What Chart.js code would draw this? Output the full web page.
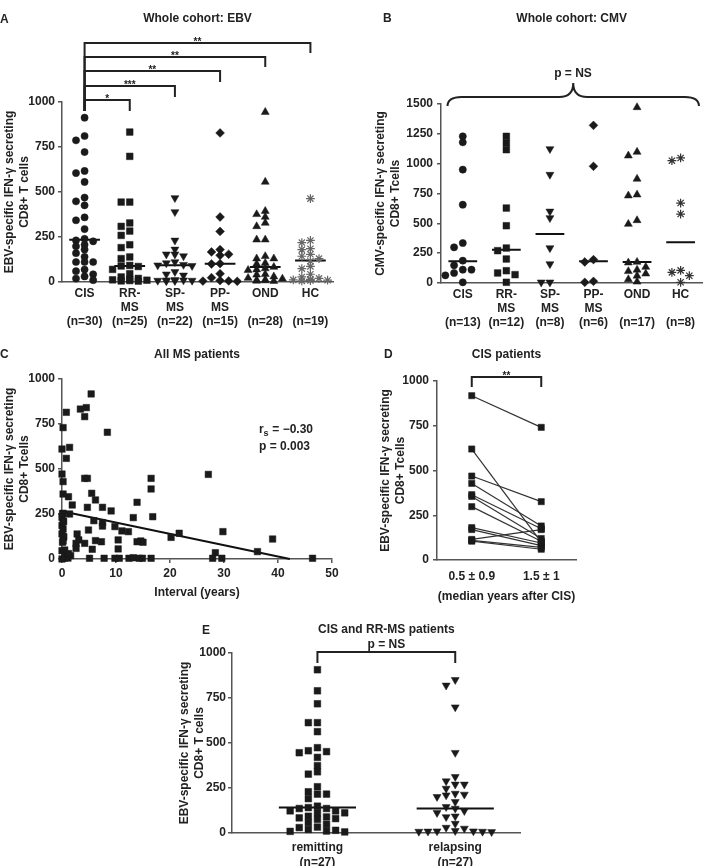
<!DOCTYPE html>
<html>
<head>
<meta charset="utf-8">
<script src="https://cdn.jsdelivr.net/npm/chart.js@4"></script>
<style>
body { margin: 0; background: #fff; width: 708px; height: 866px; position: relative; overflow: hidden; }
canvas { position: absolute; }
</style>
</head>
<body>
<canvas id="chartA" width="354" height="335" style="left:0;top:0"></canvas>
<canvas id="chartB" width="354" height="335" style="left:354px;top:0"></canvas>
<canvas id="chartC" width="354" height="285" style="left:0;top:335px"></canvas>
<canvas id="chartD" width="354" height="285" style="left:354px;top:335px"></canvas>
<canvas id="chartE" width="370" height="246" style="left:170px;top:620px"></canvas>
<script>
// ---- data ----
var groupNames = [["CIS", ""], ["RR-", "MS"], ["SP-", "MS"], ["PP-", "MS"], ["OND", ""], ["HC", ""]];
var countsEBV = ["(n=30)", "(n=25)", "(n=22)", "(n=15)", "(n=28)", "(n=19)"];
var countsCMV = ["(n=13)", "(n=12)", "(n=8)", "(n=6)", "(n=17)", "(n=8)"];

// A: EBV-specific responses, whole cohort
var ebvCIS = [913, 811, 787, 722, 617, 605, 556, 469, 448, 426, 359, 343, 294, 240, 231, 226, 207, 198, 180, 160, 140, 111, 111, 111, 69, 60, 43, 31, 19, 10];
var ebvRRMS = [833, 698, 444, 444, 328, 309, 283, 259, 207, 191, 139, 130, 92, 89, 86, 70, 46, 28, 20, 15, 12, 10, 8, 6, 5];
var ebvSPMS = [467, 389, 231, 181, 154, 154, 144, 111, 105, 96, 93, 90, 56, 43, 37, 12, 10, 10, 8, 8, 6, 5];
var ebvPPMS = [828, 361, 281, 180, 167, 154, 148, 102, 100, 46, 24, 8, 6, 5, 4];
var ebvOND = [944, 556, 394, 376, 361, 328, 309, 235, 235, 143, 130, 130, 105, 100, 83, 75, 69, 66, 43, 40, 30, 22, 18, 12, 10, 8, 6, 5];
var ebvHC = [463, 231, 219, 185, 180, 154, 143, 130, 115, 87, 74, 43, 28, 20, 15, 12, 10, 8, 6];
var medianEBV = [235, 89, 93, 102, 83, 120];
var starsEBV = ["*", "***", "**", "**", "**"];

// B: CMV-specific responses, whole cohort
var cmvCIS = [1229, 1179, 950, 656, 335, 299, 187, 148, 112, 112, 84, 64, 6];
var cmvRRMS = [1229, 1173, 1117, 628, 480, 293, 271, 201, 103, 84, 70, 6];
var cmvSPMS = [1123, 908, 600, 545, 293, 159, 6, 6];
var cmvPPMS = [1321, 978, 196, 176, 14, 6];
var cmvOND = [1472, 1098, 1067, 872, 740, 732, 525, 494, 176, 170, 134, 110, 98, 78, 60, 30, 10];
var cmvHC = [1048, 1025, 670, 578, 106, 89, 61, 6];
var medianCMV = [182, 279, 410, 182, 176, 341];

// C: all MS patients, interval (years) vs EBV response
var intervalYears = [5.4, 3.4, 4.5, 4.2, 0.8, 0.2, 8.4, 0, 1.4, 0.8, 0, 0.2, 4.2, 4.7, 27.1, 16.5, 16.5, 0.2, 1.2, 5.5,
  1.9, 4.7, 6.2, 7.5, 9.1, 13.9, 16.8, 13.2, 0.2, 1.4, 5.9, 7.5, 7.5, 9.8, 11.1, 12.3, 21.7, 20.2, 29.8, 39,
  36.2, 28.4, 27.9, 29.6, 46.4, 2.8, 3.1, 2.6, 2.6, 4.2, 4.9, 5.6, 6.2, 7.3, 10.4, 10.4, 14.6, 15.0, 13.9, 5.1,
  7.8, 9.8, 10.6, 12.4, 13.2, 14.3, 14.9, 16.5, 0.1, 0, 0.3, 0, 0.2, 0, 0.3, 0.1, 0, 0.7, 1.6, 0,
  0.5, 1.1, 0.3, 0.2, 0.5, 0.2, 1.2];
var intervalEBV = [917, 833, 841, 791, 815, 730, 704, 611, 620, 559, 472, 430, 448, 448, 470, 448, 389, 361, 346, 365,
  300, 287, 328, 287, 267, 315, 235, 230, 254, 250, 213, 202, 183, 180, 156, 152, 143, 120, 152, 111,
  41, 35, 4, 4, 4, 139, 106, 87, 59, 87, 161, 54, 102, 96, 106, 56, 100, 93, 96, 4,
  4, 4, 4, 4, 7, 4, 4, 4, 251, 232, 208, 186, 167, 139, 121, 93, 46, 28, 19, 0,
  5, 5, 125, 100, 50, 210, 30];
var fitYears = [0, 42.2];
var fitEBV = [265, 0];

// D: CIS patients, paired samples
var cisFirst = [918, 620, 469, 428, 365, 355, 298, 181, 170, 115, 110, 105];
var cisSecond = [741, 100, 326, 190, 175, 120, 105, 95, 80, 170, 70, 60];

// E: CIS and RR-MS patients, remitting vs relapsing
var remitting = [907, 790, 718, 613, 613, 563, 474, 457, 452, 446, 420, 374, 340, 327, 257, 229, 216, 216, 191, 149,
  141, 136, 136, 123, 123, 112, 112, 93, 89, 84, 80, 76, 58, 48, 33, 30, 20, 15, 11, 9, 6];
var relapsing = [851, 820, 699, 446, 312, 288, 270, 270, 247, 219, 214, 210, 201, 173, 145, 136, 123, 112, 93, 89,
  52, 30, 25, 12, 10, 10, 9, 8, 8, 6];
var medianRemRel = [141, 136];

// ---- helpers ----
var FAMILY = '"Liberation Sans", Arial, Helvetica, sans-serif';
Chart.defaults.font.family = FAMILY;
Chart.defaults.font.weight = 'bold';
Chart.defaults.font.size = 12;
Chart.defaults.color = '#222';

var INK = '#1a1a1a';
var AXIS = '#555';

var markers = [
  { pointStyle: 'circle', radius: 3.6, rotation: 0 },
  { pointStyle: 'rect', radius: 4.7, rotation: 0 },
  { pointStyle: 'triangle', radius: 4.6, rotation: 180 },
  { pointStyle: 'rectRot', radius: 4.4, rotation: 0 },
  { pointStyle: 'triangle', radius: 4.6, rotation: 0 },
  { pointStyle: 'star', radius: 4.4, rotation: 0 }
];

// simple beeswarm: spread points that would overlap sideways
function swarm(values, center, step, gap, maxK) {
  var order = [0];
  for (var k = 1; k <= maxK; k++) order.push(-k, k);
  var placed = [];
  return values.slice().sort(function (a, b) { return b - a; }).map(function (v) {
    var best = 0, bestHits = Infinity;
    for (var i = 0; i < order.length; i++) {
      var o = order[i];
      var hits = placed.filter(function (p) { return p.o === o && Math.abs(p.v - v) < gap; }).length;
      if (hits === 0) { best = o; break; }
      if (hits < bestHits) { bestHits = hits; best = o; }
    }
    placed.push({ o: best, v: v });
    return { x: center + best * step, y: v };
  });
}

function groupDatasets(groups, medians, opt) {
  var ds = groups.map(function (vals, i) {
    var m = opt.markers[i];
    var isStar = m.pointStyle === 'star';
    return {
      type: 'scatter',
      data: swarm(vals, i, opt.step, opt.gap, opt.maxK),
      pointStyle: m.pointStyle,
      pointRadius: m.radius,
      pointRotation: m.rotation,
      backgroundColor: INK,
      borderColor: isStar ? opt.starColor : INK,
      borderWidth: isStar ? 1.2 : 0.5,
      clip: false
    };
  });
  var seg = [];
  medians.forEach(function (m, i) {
    seg.push({ x: i - opt.half, y: m }, { x: i + opt.half, y: m }, { x: i + 0.5, y: null });
  });
  ds.push({ type: 'line', data: seg, borderColor: '#111', borderWidth: 2, pointRadius: 0, spanGaps: false, clip: false });
  return ds;
}

function yAxis(max, width, titleLines, titlePad, tickPad) {
  return {
    min: 0, max: max,
    ticks: { stepSize: 250, padding: tickPad, color: '#222', font: { size: 12, weight: 'bold' },
      callback: function (v) { return String(v); } },
    grid: { drawOnChartArea: false, drawTicks: true, tickLength: 4, color: AXIS, lineWidth: 1.5 },
    border: { color: AXIS, width: 1.5 },
    title: { display: true, text: titleLines, color: '#222', font: { size: 12, weight: 'bold', lineHeight: 1.25 }, padding: { top: titlePad, bottom: 0 } },
    afterFit: function (s) { s.width = width; }
  };
}

function xCategories(labels, min, max, height, pad, title, titlePad) {
  var sc = {
    type: 'linear', min: min, max: max,
    afterBuildTicks: function (s) { s.ticks = labels.map(function (l, i) { return { value: i }; }); },
    ticks: { autoSkip: false, maxRotation: 0, padding: pad, color: '#222', font: { size: 12, weight: 'bold' },
      callback: function (v, idx) { return labels[idx]; } },
    grid: { drawOnChartArea: false, drawTicks: false, color: AXIS },
    border: { color: AXIS, width: 1.5 },
    afterFit: function (s) { s.height = height; }
  };
  if (title) sc.title = { display: true, text: title, color: '#222', font: { size: 12, weight: 'bold' }, padding: { top: 0, bottom: titlePad } };
  return sc;
}

function titleOpt(text, top, chartTop) {
  return { display: true, text: text, fullSize: false, color: '#222', font: { size: 12, weight: 'bold', lineHeight: 1.2 },
    padding: { top: top, bottom: chartTop - top - 14.4 } };
}

function deco(cfg) {
  return {
    id: 'deco',
    afterDraw: function (chart) {
      var ctx = chart.ctx, xs = chart.scales.x;
      ctx.save();
      ctx.fillStyle = '#222';
      ctx.strokeStyle = '#222';
      ctx.lineWidth = 2;
      ctx.textBaseline = 'middle';
      ctx.font = 'bold 12px ' + FAMILY;
      ctx.textAlign = 'left';
      ctx.fillText(cfg.letter, cfg.letterAt[0], cfg.letterAt[1]);
      (cfg.brackets || []).forEach(function (b) {
        var x1 = xs.getPixelForValue(b.from), x2 = xs.getPixelForValue(b.to);
        ctx.beginPath();
        ctx.moveTo(x1, b.leftEnd);
        ctx.lineTo(x1, b.y);
        ctx.lineTo(x2, b.y);
        ctx.lineTo(x2, b.rightEnd);
        ctx.stroke();
        if (b.label) {
          ctx.font = 'bold 10px ' + FAMILY;
          ctx.textAlign = 'center';
          ctx.fillText(b.label, (x1 + x2) / 2, b.y - 1);
        }
      });
      if (cfg.brace) {
        var br = cfg.brace;
        var a = xs.getPixelForValue(br.from), c = xs.getPixelForValue(br.to), m = (a + c) / 2;
        ctx.beginPath();
        ctx.moveTo(a, br.ends);
        ctx.quadraticCurveTo(a, br.y, a + 14, br.y);
        ctx.lineTo(m - 14, br.y);
        ctx.quadraticCurveTo(m, br.y, m, br.peak);
        ctx.quadraticCurveTo(m, br.y, m + 14, br.y);
        ctx.lineTo(c - 14, br.y);
        ctx.quadraticCurveTo(c, br.y, c, br.ends);
        ctx.stroke();
      }
      (cfg.texts || []).forEach(function (t) {
        ctx.font = 'bold 12px ' + FAMILY;
        ctx.textAlign = 'center';
        ctx.fillText(t.text, xs.getPixelForValue(t.at), t.y);
      });
      if (cfg.after) cfg.after(ctx, chart);
      ctx.restore();
    }
  };
}

function baseOptions(o) {
  return {
    responsive: false, animation: false, devicePixelRatio: 1,
    layout: { padding: o.padding },
    plugins: { legend: { display: false }, tooltip: { enabled: false }, title: o.title || { display: false } },
    scales: { x: o.x, y: o.y }
  };
}

function withCounts(names, counts) {
  return names.map(function (n, i) { return [n[0], n[1], counts[i]]; });
}

// ---- A ----
var bracketTops = [100, 86, 71, 57, 43];
var bracketEnds = [111, 97, 82, 67, 53];
new Chart(document.getElementById('chartA'), {
  type: 'scatter',
  data: { datasets: groupDatasets([ebvCIS, ebvRRMS, ebvSPMS, ebvPPMS, ebvOND, ebvHC], medianEBV,
    { markers: markers, step: 0.19, gap: 27, maxK: 2, half: 0.34, starColor: '#666' }) },
  options: baseOptions({
    padding: { left: 0, right: 21, top: 0, bottom: 0 },
    title: titleOpt('Whole cohort: EBV', 11.8, 102),
    x: xCategories(withCounts(groupNames, countsEBV), -0.5, 5.5, 53, 4),
    y: yAxis(1000, 62, ['EBV-specific IFN-\u03b3 secreting', 'CD8+ T cells'], 2.5, 3)
  }),
  plugins: [deco({
    letter: 'A', letterAt: [0, 20],
    brackets: starsEBV.map(function (s, i) {
      return { from: 0, to: i + 1, y: bracketTops[i], leftEnd: 111, rightEnd: bracketEnds[i], label: s };
    })
  })]
});

// ---- B ----
new Chart(document.getElementById('chartB'), {
  type: 'scatter',
  data: { datasets: groupDatasets([cmvCIS, cmvRRMS, cmvSPMS, cmvPPMS, cmvOND, cmvHC], medianCMV,
    { markers: markers, step: 0.2, gap: 50, maxK: 2, half: 0.33, starColor: '#333' }) },
  options: baseOptions({
    padding: { left: 0, right: 1, top: 0, bottom: 0 },
    title: titleOpt('Whole cohort: CMV', 11.8, 104),
    x: xCategories(withCounts(groupNames, countsCMV), -0.5, 5.5, 52, 4),
    y: yAxis(1500, 87, ['CMV-specific IFN-\u03b3 secreting', 'CD8+ Tcells'], 19.5, 4)
  }),
  plugins: [deco({
    letter: 'B', letterAt: [29, 19],
    brace: { from: -0.35, to: 5.42, ends: 106, y: 97, peak: 83 },
    texts: [{ text: 'p = NS', at: 2.53, y: 74 }]
  })]
});

// ---- C ----
var scatterC = intervalYears.map(function (x, i) { return { x: x, y: intervalEBV[i] }; });
var fitC = fitYears.map(function (x, i) { return { x: x, y: fitEBV[i] }; });
new Chart(document.getElementById('chartC'), {
  type: 'scatter',
  data: {
    datasets: [
      { type: 'scatter', data: scatterC, pointStyle: 'rect', pointRadius: 4.6, backgroundColor: INK, borderColor: INK, borderWidth: 0.5, clip: false },
      { type: 'line', data: fitC, borderColor: '#111', borderWidth: 2, pointRadius: 0, clip: false }
    ]
  },
  options: baseOptions({
    padding: { left: 0, right: 22, top: 0, bottom: 0 },
    title: titleOpt('All MS patients', 12.8, 44),
    x: {
      type: 'linear', min: 0, max: 50,
      ticks: { stepSize: 10, padding: 3, color: '#222', font: { size: 12, weight: 'bold' } },
      grid: { drawOnChartArea: false, drawTicks: true, tickLength: 4, color: AXIS, lineWidth: 1.5 },
      border: { color: AXIS, width: 1.5 },
      title: { display: true, text: 'Interval (years)', color: '#222', font: { size: 12, weight: 'bold' }, padding: { top: 0, bottom: 19.8 } },
      afterFit: function (s) { s.height = 61; }
    },
    y: yAxis(1000, 62, ['EBV-specific IFN-\u03b3 secreting', 'CD8+ Tcells'], 2.5, 3)
  }),
  plugins: [deco({
    letter: 'C', letterAt: [0, 20],
    after: function (ctx) {
      ctx.textAlign = 'left';
      ctx.font = 'bold 12px ' + FAMILY;
      ctx.fillText('r', 259, 95);
      ctx.font = 'bold 9px ' + FAMILY;
      ctx.fillText('s', 263.5, 99);
      ctx.font = 'bold 12px ' + FAMILY;
      ctx.fillText(' = \u22120.30', 269, 95);
      ctx.fillText('p = 0.003', 259, 112);
    }
  })]
});

// ---- D ----
var pairSets = cisFirst.map(function (a, i) {
  return {
    type: 'line', data: [{ x: 0, y: a }, { x: 1, y: cisSecond[i] }],
    borderColor: '#333', borderWidth: 1.2,
    pointStyle: 'rect', pointRadius: 4.4, pointBackgroundColor: INK, pointBorderColor: INK, pointBorderWidth: 0.5,
    clip: false
  };
});
new Chart(document.getElementById('chartD'), {
  type: 'scatter',
  data: { datasets: pairSets },
  options: baseOptions({
    padding: { left: 0, right: 132, top: 0, bottom: 0 },
    title: titleOpt('CIS patients', 12.8, 46),
    x: xCategories(['0.5 \u00b1 0.9', '1.5 \u00b1 1'], -0.5, 1.5, 60, 9, '(median years after CIS)', 15.8),
    y: yAxis(1000, 83, ['EBV-specific IFN-\u03b3 secreting', 'CD8+ Tcells'], 24.5, 4)
  }),
  plugins: [deco({
    letter: 'D', letterAt: [30, 20],
    brackets: [{ from: 0, to: 1, y: 42, leftEnd: 52, rightEnd: 52, label: '**' }]
  })]
});

// ---- E ----
new Chart(document.getElementById('chartE'), {
  type: 'scatter',
  data: { datasets: groupDatasets([remitting, relapsing], medianRemRel,
    { markers: [markers[1], markers[2]], step: 0.066, gap: 34, maxK: 4, half: 0.28, starColor: '#333' }) },
  options: baseOptions({
    padding: { left: 0, right: 20, top: 33, bottom: 0 },
    x: xCategories([['remitting', '(n=27)'], ['relapsing', '(n=27)']], -0.62, 1.47, 33, 7.8),
    y: yAxis(1000, 62, ['EBV-specific IFN-\u03b3 secreting', 'CD8+ T cells'], 7.5, 2)
  }),
  plugins: [deco({
    letter: 'E', letterAt: [32, 11],
    brackets: [{ from: 0, to: 1, y: 32, leftEnd: 43, rightEnd: 43, label: '' }],
    texts: [{ text: 'CIS and RR-MS patients', at: 0.5, y: 10 }, { text: 'p = NS', at: 0.5, y: 25 }]
  })]
});
</script>
</body>
</html>
